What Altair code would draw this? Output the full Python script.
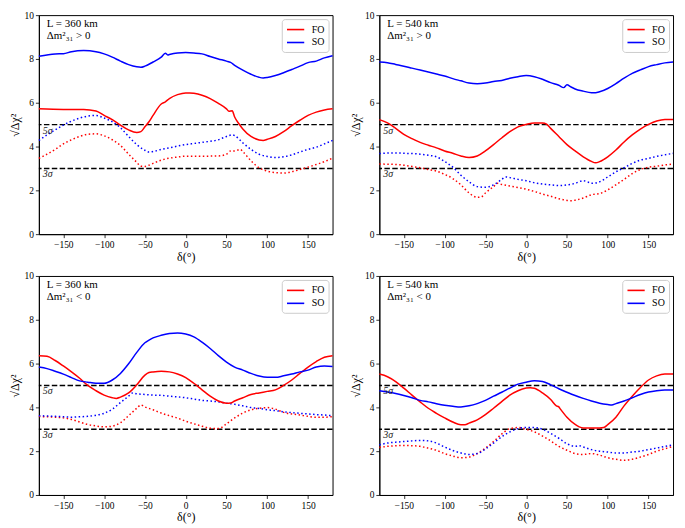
import altair as alt
import pandas as pd

# ---------------- data (delta in degrees, sqrt(delta chi^2)) ----------------
# Panel 1: L = 360 km, dm31 > 0
P1_FO = [(-180,5.72),(-150,5.69),(-125,5.69),(-110,5.62),(-100,5.42),(-90,5.23),(-80,4.98),(-70,4.76),(-60,4.64),(-55,4.68),
         (-50,4.9),(-45,5.13),(-40,5.42),(-30,5.94),(-25,6.04),(-20,6.19),(-10,6.37),(0,6.45),(5,6.45),(10,6.43),
         (20,6.34),(30,6.19),(40,5.97),(50,5.72),(53,5.61),(57,5.63),(60,5.35),(65,5.05),(70,4.8),(80,4.46),
         (90,4.3),(95,4.28),(100,4.33),(110,4.46),(120,4.68),(130,4.95),(140,5.2),(150,5.42),(160,5.57),(170,5.67),(180,5.72)]
P1_SO = [(-180,8.12),(-160,8.23),(-150,8.24),(-140,8.33),(-125,8.38),(-110,8.33),(-100,8.23),(-90,8.08),(-80,7.9),(-70,7.74),
         (-60,7.64),(-55,7.62),(-50,7.67),(-40,7.86),(-30,8.08),(-25,8.26),(-22,8.18),(-20,8.2),(-10,8.27),(0,8.29),
         (10,8.27),(20,8.23),(30,8.11),(40,8.0),(50,7.9),(55,7.84),(60,7.71),(70,7.49),(80,7.3),(90,7.16),
         (95,7.13),(100,7.15),(110,7.24),(120,7.37),(130,7.52),(140,7.67),(150,7.83),(160,7.9),(170,8.05),(180,8.15)]
P1_FO_DOT = [(-180,3.46),(-170,3.65),(-160,3.87),(-150,4.12),(-140,4.31),(-130,4.46),(-120,4.56),(-110,4.58),(-100,4.49),(-90,4.31),
             (-80,4.05),(-70,3.65),(-60,3.28),(-55,3.1),(-50,3.09),(-45,3.15),(-40,3.23),(-30,3.38),(-20,3.47),(-10,3.52),
             (0,3.56),(20,3.56),(40,3.57),(50,3.65),(55,3.8),(60,3.8),(67,3.87),(70,3.77),(80,3.35),(90,3.03),
             (100,2.88),(110,2.81),(120,2.79),(130,2.85),(140,2.95),(150,3.06),(160,3.18),(170,3.31),(180,3.47)]
P1_SO_DOT = [(-180,4.28),(-170,4.53),(-160,4.76),(-150,4.98),(-140,5.16),(-130,5.3),(-120,5.39),(-110,5.42),(-100,5.3),(-90,5.13),
             (-80,4.86),(-70,4.46),(-60,4.09),(-50,3.83),(-45,3.75),(-40,3.77),(-30,3.87),(-20,3.94),(-10,4.02),(0,4.09),
             (10,4.14),(20,4.19),(30,4.24),(40,4.31),(50,4.46),(57,4.53),(60,4.5),(70,4.17),(80,3.87),(90,3.65),
             (100,3.55),(110,3.5),(120,3.53),(130,3.62),(140,3.75),(150,3.87),(160,3.97),(170,4.12),(180,4.28)]

# Panel 2: L = 540 km, dm31 > 0
P2_FO = [(-180,5.23),(-170,5.08),(-160,4.83),(-150,4.56),(-140,4.36),(-130,4.19),(-120,4.06),(-110,3.94),(-100,3.8),(-90,3.69),
         (-80,3.57),(-70,3.5),(-60,3.57),(-50,3.8),(-40,4.09),(-30,4.39),(-20,4.68),(-10,4.9),(0,5.01),(10,5.08),
         (20,5.08),(25,5.02),(30,4.83),(40,4.46),(50,4.09),(60,3.8),(70,3.53),(80,3.32),(85,3.26),(90,3.31),
         (100,3.53),(110,3.84),(120,4.21),(130,4.53),(140,4.8),(150,5.01),(160,5.17),(170,5.24),(180,5.23)]
P2_SO = [(-180,7.86),(-170,7.83),(-160,7.75),(-150,7.67),(-140,7.58),(-130,7.49),(-120,7.4),(-110,7.31),(-100,7.22),(-90,7.1),
         (-80,7.0),(-70,6.9),(-60,6.87),(-50,6.9),(-40,6.97),(-30,7.02),(-20,7.12),(-10,7.19),(0,7.24),(10,7.19),
         (20,7.07),(30,6.92),(40,6.8),(46,6.69),(50,6.82),(55,6.72),(60,6.63),(70,6.53),(80,6.46),(85,6.46),
         (90,6.5),(100,6.65),(110,6.87),(120,7.12),(130,7.34),(140,7.5),(150,7.65),(160,7.74),(170,7.82),(180,7.86)]
P2_FO_DOT = [(-180,3.2),(-160,3.18),(-150,3.15),(-140,3.09),(-130,3.03),(-120,2.95),(-110,2.88),(-100,2.73),(-90,2.54),(-80,2.25),
             (-70,1.88),(-60,1.68),(-55,1.7),(-50,1.88),(-40,2.17),(-35,2.32),(-30,2.27),(-20,2.2),(-10,2.13),(0,2.05),
             (10,1.95),(20,1.83),(30,1.73),(40,1.62),(50,1.54),(55,1.52),(60,1.55),(70,1.65),(80,1.8),(90,1.85),
             (100,2.02),(110,2.25),(120,2.5),(130,2.76),(140,2.95),(150,3.06),(160,3.1),(170,3.16),(180,3.2)]
P2_SO_DOT = [(-180,3.68),(-160,3.71),(-150,3.69),(-140,3.68),(-130,3.65),(-120,3.6),(-110,3.53),(-100,3.32),(-90,3.06),(-80,2.69),
             (-70,2.39),(-60,2.17),(-50,2.14),(-40,2.25),(-30,2.5),(-25,2.61),(-20,2.58),(-10,2.5),(0,2.44),(10,2.35),
             (20,2.29),(30,2.25),(40,2.22),(50,2.25),(60,2.32),(70,2.44),(75,2.39),(80,2.32),(90,2.39),(100,2.61),
             (110,2.84),(120,3.03),(130,3.23),(140,3.38),(150,3.46),(160,3.55),(170,3.62),(180,3.69)]

# Panel 3: L = 360 km, dm31 < 0
P3_FO = [(-180,6.36),(-170,6.33),(-160,6.14),(-150,5.89),(-140,5.62),(-130,5.33),(-120,5.0),(-110,4.76),(-100,4.56),(-90,4.44),
         (-85,4.41),(-80,4.47),(-70,4.66),(-60,5.03),(-50,5.47),(-45,5.59),(-40,5.62),(-30,5.65),(-20,5.62),(-10,5.52),
         (0,5.36),(10,5.1),(20,4.8),(30,4.51),(40,4.29),(50,4.19),(55,4.2),(60,4.29),(70,4.44),(80,4.59),
         (90,4.66),(100,4.73),(110,4.8),(120,5.0),(130,5.25),(140,5.55),(150,5.84),(160,6.09),(170,6.29),(180,6.36)]
P3_SO = [(-180,5.84),(-170,5.77),(-160,5.65),(-150,5.52),(-140,5.36),(-130,5.21),(-120,5.15),(-110,5.1),(-100,5.1),(-90,5.25),
         (-80,5.55),(-70,5.99),(-60,6.51),(-50,6.95),(-45,7.07),(-40,7.17),(-30,7.29),(-20,7.37),(-10,7.4),(0,7.35),
         (10,7.22),(20,6.98),(30,6.69),(40,6.36),(50,6.07),(60,5.84),(70,5.7),(80,5.55),(90,5.43),(100,5.37),
         (110,5.37),(120,5.44),(130,5.52),(140,5.62),(150,5.7),(160,5.84),(170,5.89),(180,5.87)]
P3_FO_DOT = [(-180,3.58),(-160,3.55),(-150,3.52),(-140,3.45),(-130,3.33),(-120,3.22),(-110,3.15),(-100,3.11),(-90,3.14),(-80,3.3),
             (-70,3.62),(-60,3.96),(-55,4.11),(-50,4.02),(-40,3.89),(-30,3.74),(-20,3.62),(-10,3.51),(0,3.37),(10,3.25),
             (20,3.14),(30,3.05),(40,3.03),(50,3.25),(60,3.52),(70,3.74),(80,3.89),(90,3.96),(100,3.99),(110,3.92),
             (120,3.77),(130,3.7),(140,3.65),(150,3.59),(160,3.55),(170,3.55),(180,3.58)]
P3_SO_DOT = [(-180,3.62),(-160,3.59),(-150,3.57),(-140,3.55),(-130,3.57),(-120,3.59),(-110,3.64),(-100,3.73),(-90,3.92),(-80,4.22),
             (-70,4.51),(-65,4.66),(-60,4.62),(-50,4.59),(-40,4.56),(-30,4.55),(-20,4.51),(-10,4.48),(0,4.44),(10,4.38),
             (20,4.32),(30,4.29),(40,4.25),(50,4.19),(60,4.14),(70,4.07),(80,3.99),(90,3.95),(100,3.89),(110,3.85),
             (120,3.8),(130,3.76),(140,3.73),(150,3.7),(160,3.67),(170,3.65),(180,3.62)]

# Panel 4: L = 540 km, dm31 < 0
P4_FO = [(-180,5.52),(-170,5.4),(-160,5.18),(-150,4.88),(-140,4.56),(-130,4.25),(-120,3.96),(-110,3.73),(-100,3.52),(-90,3.33),
         (-80,3.21),(-75,3.21),(-70,3.28),(-60,3.43),(-50,3.67),(-40,3.96),(-30,4.26),(-20,4.56),(-10,4.76),(0,4.88),
         (5,4.9),(10,4.87),(20,4.66),(30,4.36),(37,4.07),(40,4.02),(42,3.92),(50,3.55),(60,3.22),(65,3.11),
         (70,3.06),(80,3.06),(90,3.06),(95,3.08),(100,3.21),(110,3.55),(120,4.07),(130,4.51),(140,4.91),(150,5.25),
         (160,5.44),(170,5.52),(180,5.52)]
P4_SO = [(-180,4.76),(-170,4.7),(-160,4.63),(-150,4.54),(-140,4.44),(-130,4.32),(-120,4.25),(-110,4.17),(-100,4.1),(-90,4.05),
         (-80,4.02),(-70,4.07),(-60,4.17),(-50,4.32),(-40,4.51),(-30,4.69),(-20,4.88),(-10,5.06),(0,5.15),(10,5.21),
         (20,5.18),(30,5.03),(40,4.85),(50,4.69),(60,4.54),(70,4.41),(80,4.29),(90,4.19),(100,4.13),(105,4.11),
         (110,4.17),(120,4.29),(130,4.44),(140,4.59),(150,4.7),(160,4.76),(170,4.79),(180,4.79)]
P4_FO_DOT = [(-180,2.17),(-170,2.22),(-160,2.25),(-150,2.26),(-140,2.25),(-130,2.22),(-120,2.14),(-110,2.04),(-100,1.89),(-90,1.78),
             (-80,1.7),(-70,1.73),(-60,1.89),(-50,2.14),(-40,2.44),(-30,2.78),(-20,3.03),(-10,3.08),(0,3.0),(10,2.88),
             (20,2.69),(30,2.47),(40,2.22),(50,2.04),(60,1.89),(70,1.85),(80,1.89),(90,1.82),(100,1.7),(110,1.63),
             (120,1.58),(130,1.63),(140,1.73),(150,1.85),(160,2.0),(170,2.11),(180,2.22)]
P4_SO_DOT = [(-180,2.29),(-170,2.37),(-160,2.41),(-150,2.44),(-140,2.47),(-130,2.49),(-120,2.47),(-110,2.37),(-100,2.19),(-90,2.03),
             (-80,1.92),(-70,1.85),(-60,1.89),(-50,2.1),(-40,2.37),(-30,2.66),(-20,2.88),(-10,3.03),(0,3.08),(10,3.08),
             (20,3.0),(30,2.81),(40,2.59),(50,2.34),(60,2.22),(65,2.25),(70,2.19),(80,2.07),(90,2.0),(100,1.96),
             (110,1.92),(120,1.92),(130,1.96),(140,2.0),(150,2.07),(160,2.14),(170,2.22),(180,2.29)]

PANEL_L = ["L = 360 km", "L = 540 km", "L = 360 km", "L = 540 km"]
PANEL_DM = ["Δm²₃₁ > 0", "Δm²₃₁ > 0", "Δm²₃₁ < 0", "Δm²₃₁ < 0"]
SERIES = ["FO", "SO"]
COLORS = ["red", "blue"]
SIGMA_LEVELS = [5, 3]
SIGMA_LABELS = ["5σ", "3σ"]
X_TICKS = [-150, -100, -50, 0, 50, 100, 150]
Y_TICKS = [0, 2, 4, 6, 8, 10]

FONT = "Liberation Serif"
W, H = 295, 220


def panel(fo, so, fo_d, so_d, ltxt, dmtxt):
    rows = []
    for name, pts, style in [("FO", fo, "solid"), ("SO", so, "solid"),
                             ("FO", fo_d, "dotted"), ("SO", so_d, "dotted")]:
        for x, y in pts:
            rows.append({"delta": x, "chi": y, "order": name, "style": style})
    df = pd.DataFrame(rows)

    x = alt.X("delta:Q", scale=alt.Scale(domain=[-180, 180], nice=False, zero=False),
              axis=alt.Axis(values=X_TICKS, title="δ(°)"))
    y = alt.Y("chi:Q", scale=alt.Scale(domain=[0, 10], nice=False),
              axis=alt.Axis(values=Y_TICKS, title="√Δχ²"))
    color = alt.Color("order:N", scale=alt.Scale(domain=SERIES, range=COLORS),
                      legend=alt.Legend(title=None, orient="top-right", offset=4,
                                        symbolType="M-1,0H2.3", symbolSize=110, symbolStrokeWidth=1.6,
                                        labelFont=FONT, labelFontSize=10, labelOffset=13,
                                        padding=4, rowPadding=1, strokeColor="#cccccc",
                                        fillColor="white", cornerRadius=3))

    base = alt.Chart(df)
    solid = base.transform_filter(alt.datum.style == "solid").mark_line(
        strokeWidth=1.5, interpolate="monotone").encode(x=x, y=y, color=color)
    dotted = base.transform_filter(alt.datum.style == "dotted").mark_line(
        strokeWidth=1.5, strokeDash=[1.5, 2.5], interpolate="monotone").encode(x=x, y=y, color=color)

    sig = pd.DataFrame({"level": SIGMA_LEVELS, "label": SIGMA_LABELS})
    rules = alt.Chart(sig).mark_rule(color="black", strokeWidth=1.4, strokeDash=[5.5, 2.4]).encode(y="level:Q")
    sig_txt = alt.Chart(sig).mark_text(align="left", baseline="top", dy=1, font=FONT, fontSize=10,
                                       fontStyle="italic", color="#222222").encode(
        x=alt.value(4), y="level:Q", text="label:N")

    ann = pd.DataFrame({"t": [ltxt, dmtxt], "row": [0, 1]})
    ann1 = alt.Chart(ann).transform_filter(alt.datum.row == 0).mark_text(
        align="left", baseline="middle", font=FONT, fontSize=11).encode(
        x=alt.value(8), y=alt.value(9), text="t:N")
    ann2 = alt.Chart(ann).transform_filter(alt.datum.row == 1).mark_text(
        align="left", baseline="middle", font=FONT, fontSize=11).encode(
        x=alt.value(8), y=alt.value(21), text="t:N")

    return alt.layer(rules, dotted, solid, sig_txt, ann1, ann2).properties(width=W, height=H)


p1 = panel(P1_FO, P1_SO, P1_FO_DOT, P1_SO_DOT, PANEL_L[0], PANEL_DM[0])
p2 = panel(P2_FO, P2_SO, P2_FO_DOT, P2_SO_DOT, PANEL_L[1], PANEL_DM[1])
p3 = panel(P3_FO, P3_SO, P3_FO_DOT, P3_SO_DOT, PANEL_L[2], PANEL_DM[2])
p4 = panel(P4_FO, P4_SO, P4_FO_DOT, P4_SO_DOT, PANEL_L[3], PANEL_DM[3])

row1 = alt.hconcat(p1, p2, spacing=12).resolve_scale(color="independent")
row2 = alt.hconcat(p3, p4, spacing=12).resolve_scale(color="independent")
chart = alt.vconcat(row1, row2, spacing=7).resolve_scale(color="independent").properties(
    padding={"left": 0, "top": 0, "right": 0, "bottom": 0}
).configure_view(stroke="black", strokeWidth=1).configure_axis(
    grid=False, domainColor="black", domainWidth=1, tickColor="black", tickSize=3.5, tickWidth=0.8,
    labelFont=FONT, labelFontSize=9.5, labelColor="black", labelPadding=2,
    titleFont=FONT, titleFontSize=12, titleFontWeight="normal", titleColor="black", titlePadding=2
).configure_axisY(labelFlush=False).configure_axisX(labelFlush=False)

chart.save("out.html", embed_options={"renderer": "svg", "actions": False})
